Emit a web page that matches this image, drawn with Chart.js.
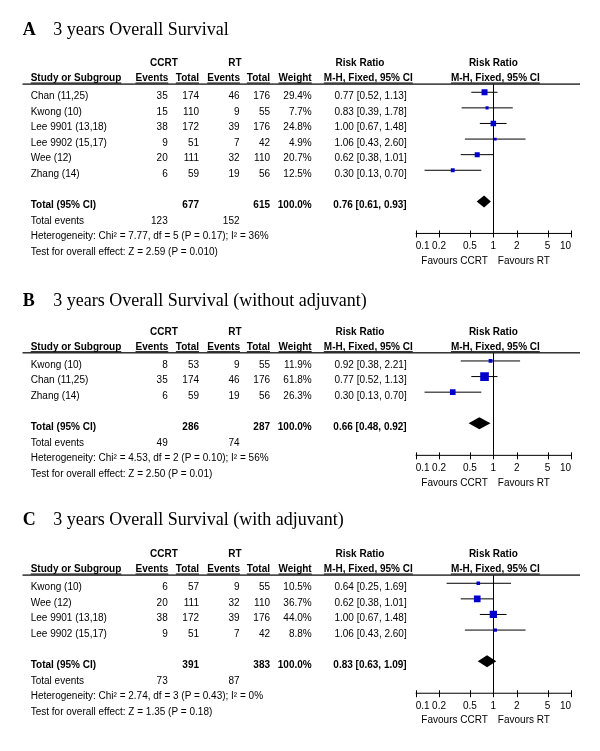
<!DOCTYPE html>
<html>
<head>
<meta charset="utf-8">
<script src="https://cdn.jsdelivr.net/npm/chart.js@4"></script>
<style>
  html, body { margin: 0; padding: 0; background: #fff; }
  #wrap { position: relative; width: 600px; height: 751px; }
  #wrap canvas { position: absolute; left: 0; top: 0; }
</style>
</head>
<body>
<div id="wrap">
  <canvas id="panelA" width="600" height="751"></canvas>
  <canvas id="panelB" width="600" height="751"></canvas>
  <canvas id="panelC" width="600" height="751"></canvas>
</div>
<script>
// --- A: all studies
const studiesA    = ['Chan (11,25)', 'Kwong (10)', 'Lee 9901 (13,18)', 'Lee 9902 (15,17)', 'Wee (12)', 'Zhang (14)'];
const ccrtEventsA = [35, 15, 38, 9, 20, 6];
const ccrtTotalA  = [174, 110, 172, 51, 111, 59];
const rtEventsA   = [46, 9, 39, 7, 32, 19];
const rtTotalA    = [176, 55, 176, 42, 110, 56];
const weightA     = [29.4, 7.7, 24.8, 4.9, 20.7, 12.5];
const rrA         = [0.77, 0.83, 1.00, 1.06, 0.62, 0.30];
const lowA        = [0.52, 0.39, 0.67, 0.43, 0.38, 0.13];
const highA       = [1.13, 1.78, 1.48, 2.60, 1.01, 0.70];
const pooledA     = [0.76, 0.61, 0.93];
const totalsA     = [677, 615];
const eventsA     = [123, 152];
const statsA      = ['Heterogeneity: Chi² = 7.77, df = 5 (P = 0.17); I² = 36%',
                     'Test for overall effect: Z = 2.59 (P = 0.010)'];

// --- B: without adjuvant
const studiesB    = ['Kwong (10)', 'Chan (11,25)', 'Zhang (14)'];
const ccrtEventsB = [8, 35, 6];
const ccrtTotalB  = [53, 174, 59];
const rtEventsB   = [9, 46, 19];
const rtTotalB    = [55, 176, 56];
const weightB     = [11.9, 61.8, 26.3];
const rrB         = [0.92, 0.77, 0.30];
const lowB        = [0.38, 0.52, 0.13];
const highB       = [2.21, 1.13, 0.70];
const pooledB     = [0.66, 0.48, 0.92];
const totalsB     = [286, 287];
const eventsB     = [49, 74];
const statsB      = ['Heterogeneity: Chi² = 4.53, df = 2 (P = 0.10); I² = 56%',
                     'Test for overall effect: Z = 2.50 (P = 0.01)'];

// --- C: with adjuvant
const studiesC    = ['Kwong (10)', 'Wee (12)', 'Lee 9901 (13,18)', 'Lee 9902 (15,17)'];
const ccrtEventsC = [6, 20, 38, 9];
const ccrtTotalC  = [57, 111, 172, 51];
const rtEventsC   = [9, 32, 39, 7];
const rtTotalC    = [55, 110, 176, 42];
const weightC     = [10.5, 36.7, 44.0, 8.8];
const rrC         = [0.64, 0.62, 1.00, 1.06];
const lowC        = [0.25, 0.38, 0.67, 0.43];
const highC       = [1.69, 1.01, 1.48, 2.60];
const pooledC     = [0.83, 0.63, 1.09];
const totalsC     = [391, 383];
const eventsC     = [73, 87];
const statsC      = ['Heterogeneity: Chi² = 2.74, df = 3 (P = 0.43); I² = 0%',
                     'Test for overall effect: Z = 1.35 (P = 0.18)'];

const panelLetters = ['A', 'B', 'C'];
const panelTitles  = ['3 years Overall Survival',
                      '3 years Overall Survival (without adjuvant)',
                      '3 years Overall Survival (with adjuvant)'];
const axisTicks    = [0.1, 0.2, 0.5, 1, 2, 5, 10];
const tickLabels   = ['0.1', '0.2', '0.5', '1', '2', '5', '10'];

// layout (page px)
const ROW_PX  = 15.6;
const ruleY   = [84, 352.7, 575];
const titleY  = [30, 301, 520];
const COL = { study: 30.7, ccrtEv: 167.7, ccrtTot: 199, rtEv: 239.5, rtTot: 270, weight: 311.7, rr: 406.7 };
const SANS  = '"Liberation Sans", Arial, sans-serif';
const SERIF = '"Liberation Serif", "Times New Roman", serif';

function text(ctx, s, x, y, align, bold, underline) {
  ctx.font = (bold ? 'bold ' : '') + '10px ' + SANS;
  ctx.textAlign = align;
  ctx.textBaseline = 'middle';
  ctx.fillStyle = '#000';
  ctx.fillText(s, x, y);
  if (underline) {
    const w = ctx.measureText(s).width;
    const x0 = align === 'left' ? x : align === 'right' ? x - w : x - w / 2;
    ctx.fillRect(x0, y + 4, w, 1);
  }
}

function forest(canvasId, idx, p) {
  const n = p.studies.length;
  const totalRow = n + 1;
  const H = ruleY[idx];
  const yMin = -0.53, yMax = totalRow + 2.05;
  const axisY = H + (yMax - yMin) * ROW_PX;

  const datasets = [{
    type: 'scatter',
    data: p.rr.map((v, i) => ({ x: v, y: i })),
    pointStyle: 'rect',
    pointRadius: p.weight.map(w => Math.max(2.7, 1.1 * Math.sqrt(w)) / Math.SQRT2),
    pointBackgroundColor: '#0000cd',
    pointBorderWidth: 0,
    order: 0,
  }];
  p.rr.forEach((_, i) => datasets.push({
    type: 'scatter',
    showLine: true,
    data: [{ x: p.low[i], y: i }, { x: p.high[i], y: i }],
    borderColor: '#000',
    borderWidth: 1,
    pointRadius: 0,
    order: 1,
  }));

  const forestText = {
    id: 'forestText',
    beforeDatasetsDraw(chart) {
      const { ctx, chartArea: { left, right, top, bottom }, scales: { x } } = chart;
      ctx.save();
      ctx.strokeStyle = '#000';
      ctx.lineWidth = 1;
      const x1 = Math.round(x.getPixelForValue(1)) + 0.5;
      ctx.beginPath();
      ctx.moveTo(x1, top); ctx.lineTo(x1, bottom);
      ctx.moveTo(left, bottom); ctx.lineTo(right, bottom);
      axisTicks.forEach(v => {
        const tx = Math.round(x.getPixelForValue(v)) + 0.5;
        ctx.moveTo(tx, bottom - 3); ctx.lineTo(tx, bottom + 4);
      });
      ctx.stroke();
      ctx.restore();
    },
    afterDatasetsDraw(chart) {
      const { ctx, scales: { x, y } } = chart;
      const [est, lo, hi] = p.pooled;
      const cy = y.getPixelForValue(totalRow);
      ctx.save();
      ctx.fillStyle = '#000';
      ctx.beginPath();
      ctx.moveTo(x.getPixelForValue(lo), cy);
      ctx.lineTo(x.getPixelForValue(est), cy - 6);
      ctx.lineTo(x.getPixelForValue(hi), cy);
      ctx.lineTo(x.getPixelForValue(est), cy + 6);
      ctx.closePath();
      ctx.fill();
      ctx.restore();
    },
    afterDraw(chart) {
      const { ctx, chartArea: { left, right, bottom }, scales: { x, y } } = chart;
      ctx.save();
      // title
      ctx.fillStyle = '#000';
      ctx.textBaseline = 'middle';
      ctx.textAlign = 'left';
      ctx.font = 'bold 18px ' + SERIF;
      ctx.fillText(panelLetters[idx], 22.7, titleY[idx]);
      ctx.font = '18px ' + SERIF;
      ctx.fillText(panelTitles[idx], 53.3, titleY[idx]);

      // header rule
      ctx.fillStyle = '#222';
      ctx.fillRect(22.5, H - 0.6, 557.5, 1.4);

      // header rows
      const plotMid = (left + right) / 2;
      const h1 = H - 20.5, h2 = H - 5.5;
      text(ctx, 'CCRT', 164, h1, 'center', true);
      text(ctx, 'RT', 235, h1, 'center', true);
      text(ctx, 'Risk Ratio', 360, h1, 'center', true);
      text(ctx, 'Risk Ratio', plotMid, h1, 'center', true);
      text(ctx, 'Study or Subgroup', COL.study, h2, 'left', true, true);
      text(ctx, 'Events', COL.ccrtEv + 0.6, h2, 'right', true, true);
      text(ctx, 'Total', COL.ccrtTot, h2, 'right', true, true);
      text(ctx, 'Events', COL.rtEv + 0.5, h2, 'right', true, true);
      text(ctx, 'Total', COL.rtTot, h2, 'right', true, true);
      text(ctx, 'Weight', COL.weight, h2, 'right', true, true);
      text(ctx, 'M-H, Fixed, 95% CI', 368.3, h2, 'center', true, true);
      text(ctx, 'M-H, Fixed, 95% CI', plotMid + 2, h2, 'center', true, true);

      // study rows
      const ry = i => y.getPixelForValue(i) + 4;
      p.studies.forEach((s, i) => {
        const ty = ry(i);
        text(ctx, s, COL.study, ty, 'left');
        text(ctx, String(p.ccrtEv[i]), COL.ccrtEv, ty, 'right');
        text(ctx, String(p.ccrtTot[i]), COL.ccrtTot, ty, 'right');
        text(ctx, String(p.rtEv[i]), COL.rtEv, ty, 'right');
        text(ctx, String(p.rtTot[i]), COL.rtTot, ty, 'right');
        text(ctx, p.weight[i].toFixed(1) + '%', COL.weight, ty, 'right');
        text(ctx, `${p.rr[i].toFixed(2)} [${p.low[i].toFixed(2)}, ${p.high[i].toFixed(2)}]`, COL.rr, ty, 'right');
      });

      // total rows
      const tY = ry(totalRow);
      text(ctx, 'Total (95% CI)', COL.study, tY, 'left', true);
      text(ctx, String(p.totals[0]), COL.ccrtTot, tY, 'right', true);
      text(ctx, String(p.totals[1]), COL.rtTot, tY, 'right', true);
      text(ctx, '100.0%', COL.weight, tY, 'right', true);
      text(ctx, `${p.pooled[0].toFixed(2)} [${p.pooled[1].toFixed(2)}, ${p.pooled[2].toFixed(2)}]`, COL.rr, tY, 'right', true);
      const eY = ry(totalRow + 1);
      text(ctx, 'Total events', COL.study, eY, 'left');
      text(ctx, String(p.events[0]), COL.ccrtEv, eY, 'right');
      text(ctx, String(p.events[1]), COL.rtEv, eY, 'right');
      text(ctx, p.stats[0], COL.study, ry(totalRow + 2), 'left');
      text(ctx, p.stats[1], COL.study, ry(totalRow + 3), 'left');

      // axis labels
      axisTicks.forEach((v, i) => {
        const tx = x.getPixelForValue(v);
        const align = i === 0 ? 'left' : i === axisTicks.length - 1 ? 'right' : 'center';
        text(ctx, tickLabels[i], tx, bottom + 13, align);
      });
      const x1 = x.getPixelForValue(1);
      text(ctx, 'Favours CCRT', x1 - 5.5, bottom + 27.5, 'right');
      text(ctx, 'Favours RT', x1 + 4.5, bottom + 27.5, 'left');
      ctx.restore();
    }
  };

  return new Chart(document.getElementById(canvasId), {
    type: 'scatter',
    data: { datasets },
    options: {
      responsive: false,
      animation: false,
      events: [],
      layout: { padding: { left: 415.7, right: 29, top: H, bottom: 751 - axisY } },
      plugins: { legend: { display: false }, tooltip: { enabled: false } },
      scales: {
        x: { type: 'logarithmic', min: 0.1, max: 10, display: false },
        y: { type: 'linear', reverse: true, min: yMin, max: yMax, display: false },
      },
    },
    plugins: [forestText],
  });
}

forest('panelA', 0, {
  studies: studiesA, ccrtEv: ccrtEventsA, ccrtTot: ccrtTotalA, rtEv: rtEventsA, rtTot: rtTotalA,
  weight: weightA, rr: rrA, low: lowA, high: highA, pooled: pooledA,
  totals: totalsA, events: eventsA, stats: statsA,
});
forest('panelB', 1, {
  studies: studiesB, ccrtEv: ccrtEventsB, ccrtTot: ccrtTotalB, rtEv: rtEventsB, rtTot: rtTotalB,
  weight: weightB, rr: rrB, low: lowB, high: highB, pooled: pooledB,
  totals: totalsB, events: eventsB, stats: statsB,
});
forest('panelC', 2, {
  studies: studiesC, ccrtEv: ccrtEventsC, ccrtTot: ccrtTotalC, rtEv: rtEventsC, rtTot: rtTotalC,
  weight: weightC, rr: rrC, low: lowC, high: highC, pooled: pooledC,
  totals: totalsC, events: eventsC, stats: statsC,
});
</script>
</body>
</html>
